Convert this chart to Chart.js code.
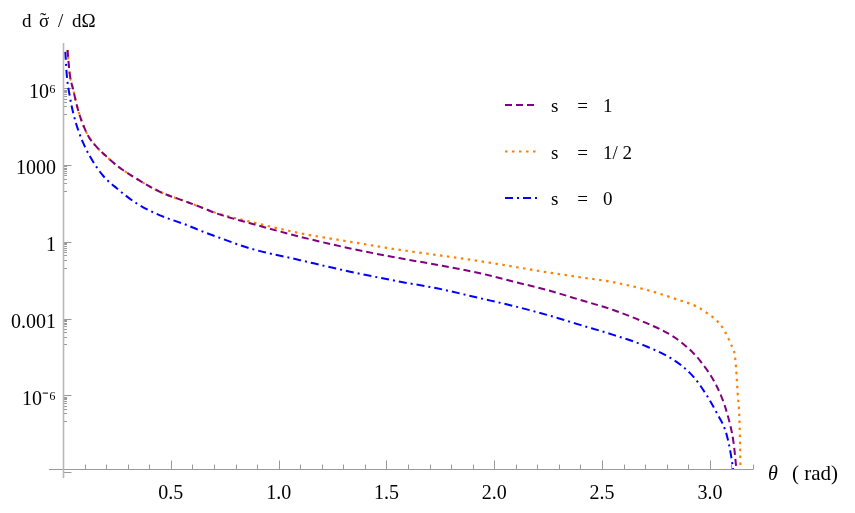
<!DOCTYPE html>
<html>
<head>
<meta charset="utf-8">
<script src="https://cdn.jsdelivr.net/npm/chart.js@4.4.1/dist/chart.umd.min.js"></script>
<style>
  html, body { margin: 0; padding: 0; background: #ffffff; }
  #wrap { width: 855px; height: 513px; }
</style>
</head>
<body>
<div id="wrap"><canvas id="c" width="855" height="513"></canvas></div>
<script>
// ---------------- data ----------------
const seriesLabels = ['s = 1', 's = 1/ 2', 's = 0'];

// s = 1 (purple, dashed)
const thetaS1 = [0.021, 0.031, 0.048, 0.064, 0.087, 0.117, 0.156, 0.21, 0.257, 0.326, 0.45, 0.574, 0.651, 0.713, 0.868, 1.10, 1.332, 1.564, 1.741, 1.934, 2.089, 2.244, 2.398, 2.552, 2.707, 2.831, 2.924, 2.956, 3.033, 3.08, 3.11, 3.123, 3.13];
const valueS1 = [3.2e7, 3.8e6, 8.5e5, 2.2e5, 5.2e4, 1.4e4, 5.2e3, 1.9e3, 870, 355, 91, 37, 21, 13, 5.4, 1.6, 0.56, 0.23, 0.126, 0.0601, 0.0282, 0.0134, 0.00546, 0.00219, 6.7e-4, 2.0e-4, 4.5e-5, 2.2e-5, 2.2e-6, 2.0e-7, 1.4e-8, 1.3e-9, 3.2e-10];

// s = 1/2 (orange, dotted)
const thetaS12 = [0.021, 0.031, 0.048, 0.064, 0.087, 0.117, 0.156, 0.21, 0.257, 0.326, 0.45, 0.574, 0.651, 0.713, 0.868, 1.10, 1.332, 1.564, 1.734, 1.934, 2.089, 2.244, 2.398, 2.552, 2.707, 2.831, 2.939, 2.987, 3.049, 3.095, 3.118, 3.129, 3.138, 3.1415, 3.1425];
const valueS12 = [3.2e7, 3.8e6, 8.5e5, 2.2e5, 5.2e4, 1.4e4, 5.2e3, 1.9e3, 870, 355, 91, 37, 21, 13.5, 6.2, 2.2, 1.02, 0.49, 0.31, 0.178, 0.109, 0.0658, 0.042, 0.0268, 0.0134, 0.00635, 0.00299, 0.00166, 5.8e-4, 1.1e-4, 2.5e-5, 1.2e-6, 6.2e-8, 1.3e-9, 1e-10];

// s = 0 (blue, dash-dot)
const thetaS0 = [0.011, 0.017, 0.032, 0.048, 0.071, 0.102, 0.141, 0.187, 0.249, 0.342, 0.45, 0.574, 0.651, 0.713, 0.868, 1.10, 1.332, 1.564, 1.734, 1.934, 2.089, 2.244, 2.398, 2.552, 2.707, 2.831, 2.908, 2.956, 3.033, 3.08, 3.108, 3.118];
const valueS0 = [2.7e7, 3.8e6, 4.7e5, 1.05e5, 2.3e4, 5.2e3, 1.32e3, 380, 126, 32, 11, 4.6, 2.5, 1.6, 0.56, 0.195, 0.069, 0.028, 0.0155, 6.35e-3, 3.16e-3, 1.42e-3, 5.77e-4, 2.35e-4, 8.2e-5, 2.48e-5, 7.5e-6, 2.4e-6, 2.0e-7, 2.5e-8, 1.3e-9, 2.5e-10];

// axes
const xTickValues = [0.5, 1.0, 1.5, 2.0, 2.5, 3.0];
const xTickLabels = ['0.5', '1.0', '1.5', '2.0', '2.5', '3.0'];
const yTickValues = [1e-6, 1e-3, 1, 1e3, 1e6];
const yTickLabels = ['10\u207B\u2076', '0.001', '1', '1000', '10\u2076'];
const xRange = [0, 3.2];
const xAxisStart = -0.065;
const yRange = [1.34e-9, 6.0e7];
const yTitleParts = ['d', '\u03C3', '\u02DC', '/', 'd\u03A9'];   // d σ̃ / dΩ
const xTitleSymbol = '\u03B8';
const xTitleUnit = '( rad)';

// ---------------- chart ----------------
const SERIF = "'Liberation Serif', 'Times New Roman', serif";
const toPoints = (xs, ys) => xs.map((x, i) => ({ x: x, y: ys[i] }));

const axesPlugin = {
  id: 'mmaAxes',
  beforeDatasetsDraw(chart) {
    const ctx = chart.ctx;
    const xs = chart.scales.x, ys = chart.scales.y;
    const x0 = Math.round(xs.getPixelForValue(0)) + 0.5;
    const yb = Math.round(ys.bottom) + 0.5;
    ctx.save();
    ctx.strokeStyle = '#9a9a9a';
    ctx.lineWidth = 1;
    ctx.beginPath();
    ctx.moveTo(xs.getPixelForValue(xAxisStart), yb);
    ctx.lineTo(xs.getPixelForValue(xRange[1]), yb);
    ctx.stroke();
    for (let k = 1; k <= 32; k++) {
      const px = Math.round(xs.getPixelForValue(k / 10)) + 0.5;
      const major = (k % 5 === 0);
      ctx.beginPath();
      ctx.moveTo(px, yb);
      ctx.lineTo(px, yb - (major ? 9 : 5));
      ctx.stroke();
    }
    for (let k = -3; k <= 2; k++) {
      const vals = [[Math.pow(10, 3 * k), 8]];
      for (let m = 1; m <= 9; m++) vals.push([m * Math.pow(10, 3 * k - 1), 3.5]);
      vals.forEach(([v, len]) => {
        const py = ys.getPixelForValue(v);
        if (py < ys.top - 1 || py > ys.bottom + 4) return;
        const pyr = Math.round(py) + 0.5;
        ctx.beginPath();
        ctx.moveTo(x0, pyr);
        ctx.lineTo(x0 + len, pyr);
        ctx.stroke();
      });
    }
    ctx.strokeStyle = '#b8b8b8';
    ctx.lineWidth = 1.6;
    ctx.beginPath();
    ctx.moveTo(x0, ys.top);
    ctx.lineTo(x0, ys.bottom + 9);
    ctx.stroke();
    ctx.restore();
  },
  afterDraw(chart) {
    const ctx = chart.ctx;
    const xs = chart.scales.x;
    ctx.save();
    ctx.fillStyle = '#000';
    ctx.textBaseline = 'alphabetic';
    ctx.textAlign = 'left';
    // y title: d σ̃ / dΩ
    ctx.font = '19px ' + SERIF;
    ctx.fillText(yTitleParts[0], 22, 27);
    ctx.fillText(yTitleParts[1], 39, 27);
    ctx.fillText(yTitleParts[2], 40, 25.5);
    ctx.fillText(yTitleParts[3], 58, 27);
    ctx.fillText(yTitleParts[4], 72, 27);
    // x title
    const xt = xs.right + 15;
    ctx.font = 'italic 20px ' + SERIF;
    ctx.fillText(xTitleSymbol, xt, 480);
    ctx.font = '21px ' + SERIF;
    ctx.fillText(xTitleUnit, xt + 24, 480);
    // legend
    const lx = 505, ly0 = 105, dy = 46.5, sample = 32;
    chart.data.datasets.forEach((ds, i) => {
      const y = ly0 + i * dy;
      ctx.save();
      ctx.strokeStyle = ds.borderColor;
      ctx.lineWidth = ds.borderWidth;
      ctx.setLineDash(ds.borderDash || []);
      ctx.beginPath();
      ctx.moveTo(lx, y);
      ctx.lineTo(lx + sample, y);
      ctx.stroke();
      ctx.restore();
      const parts = ds.label.split(' = ');
      ctx.font = '19px ' + SERIF;
      ctx.textAlign = 'left';
      ctx.fillText(parts[0], 551, y + 7);
      ctx.textAlign = 'center';
      ctx.fillText('=', 582.5, y + 7);
      ctx.textAlign = 'left';
      ctx.fillText(parts[1], 603, y + 7);
    });
    ctx.restore();
  }
};

new Chart(document.getElementById('c'), {
  type: 'line',
  data: {
    datasets: [
      { label: seriesLabels[0], data: toPoints(thetaS1, valueS1), borderColor: 'rgb(128,0,128)', borderDash: [7, 4], borderWidth: 2 },
      { label: seriesLabels[1], data: toPoints(thetaS12, valueS12), borderColor: 'rgb(255,128,0)', borderDash: [2.5, 4.5], borderWidth: 2.2 },
      { label: seriesLabels[2], data: toPoints(thetaS0, valueS0), borderColor: 'rgb(0,0,255)', borderDash: [8, 4, 2, 4], borderWidth: 2 }
    ]
  },
  options: {
    responsive: false,
    animation: false,
    events: [],
    devicePixelRatio: 1,
    layout: { padding: { left: 0, top: 43, right: 102, bottom: 0 } },
    elements: {
      line: { fill: false, cubicInterpolationMode: 'monotone', borderCapStyle: 'butt' },
      point: { radius: 0, hoverRadius: 0 }
    },
    plugins: { legend: { display: false }, tooltip: { enabled: false }, title: { display: false } },
    scales: {
      x: {
        type: 'linear',
        min: xRange[0],
        max: xRange[1],
        grid: { display: false, drawTicks: false },
        border: { display: false },
        ticks: {
          padding: 13,
          color: '#000',
          font: { family: SERIF, size: 20 },
          callback: (v, i) => xTickLabels[i]
        },
        afterBuildTicks: (s) => { s.ticks = xTickValues.map(v => ({ value: v })); },
        afterFit: (s) => { s.height = 44; }
      },
      y: {
        type: 'logarithmic',
        position: 'left',
        min: yRange[0],
        max: yRange[1],
        grid: { display: false, drawTicks: false },
        border: { display: false },
        ticks: {
          padding: 7,
          labelOffset: 4,
          color: '#000',
          font: { family: SERIF, size: 20 },
          callback: (v, i) => yTickLabels[i]
        },
        afterBuildTicks: (s) => { s.ticks = yTickValues.map(v => ({ value: v })); },
        afterFit: (s) => { s.width = 63; }
      }
    }
  },
  plugins: [axesPlugin]
});
</script>
</body>
</html>
